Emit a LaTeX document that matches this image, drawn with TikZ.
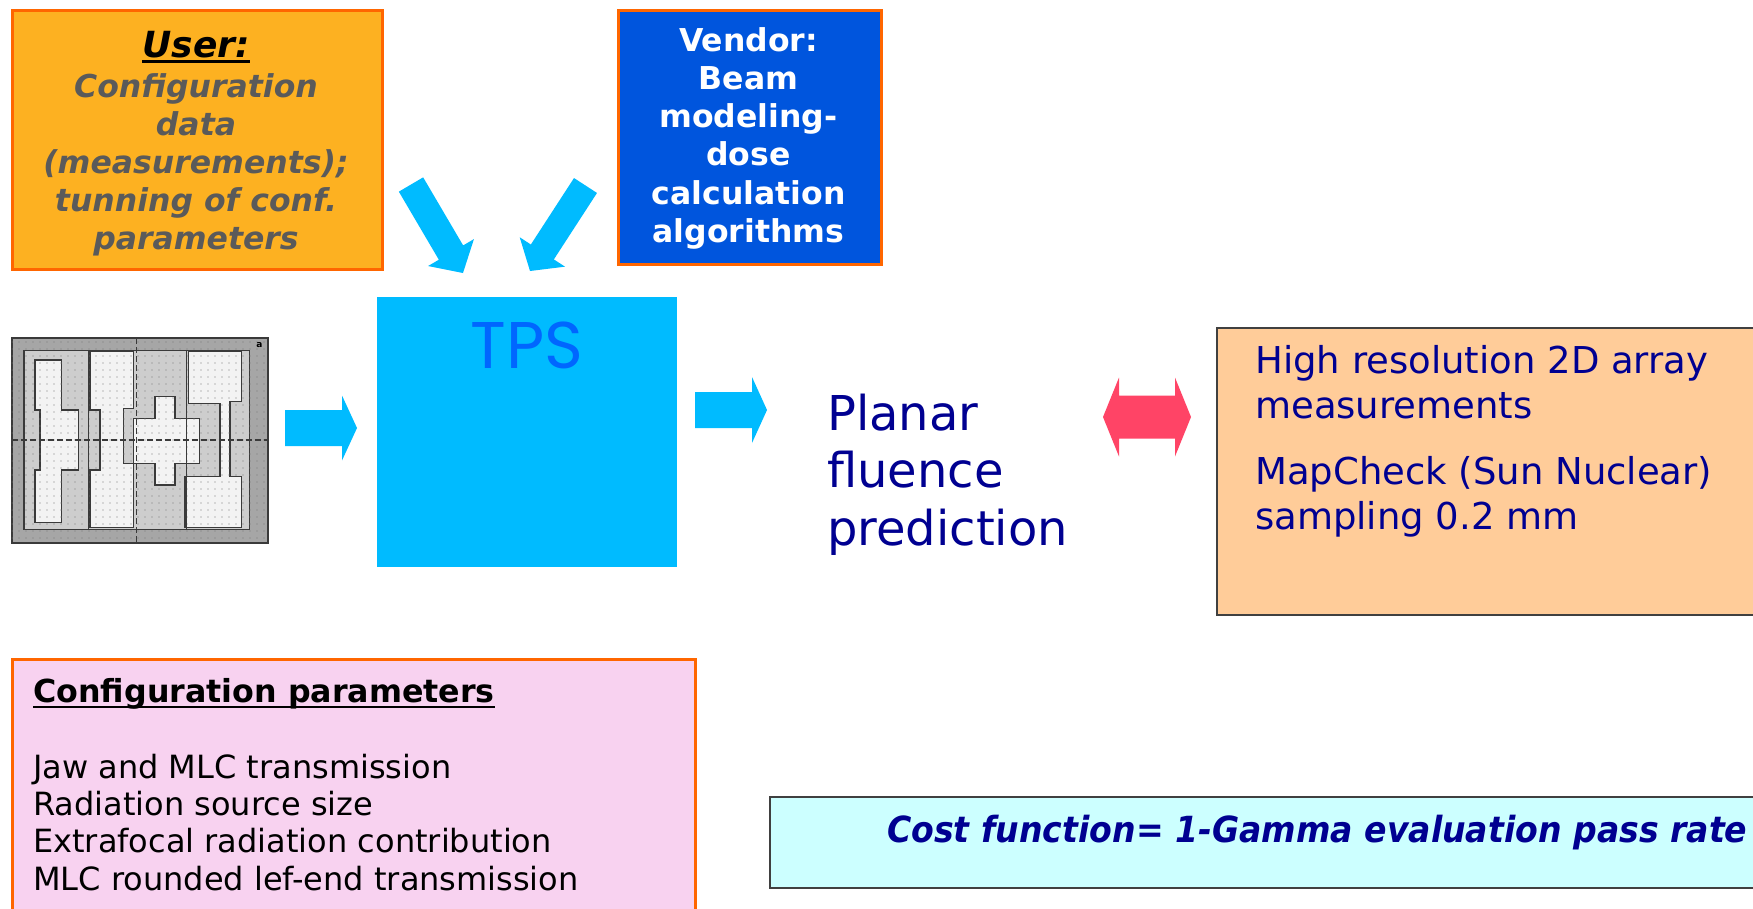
\documentclass[tikz,border=0pt]{standalone}
\usepackage{fontspec}
\setmainfont{DejaVu Sans}
\newfontfamily\tpsfont{Poppins}
\newfontfamily\narrowfont[FakeStretch=0.92]{DejaVu Sans}
\usetikzlibrary{calc,patterns.meta}

\definecolor{userfill}{RGB}{253,177,33}
\definecolor{orangeb}{RGB}{255,102,0}
\definecolor{vendorfill}{RGB}{0,85,221}
\definecolor{tpsfill}{RGB}{0,187,255}
\definecolor{tpstext}{RGB}{0,102,255}
\definecolor{arrowred}{RGB}{255,68,102}
\definecolor{navy}{RGB}{0,0,145}
\definecolor{usergray}{RGB}{90,90,90}
\definecolor{peach}{RGB}{255,204,153}
\definecolor{boxgray}{RGB}{64,64,64}
\definecolor{pinkfill}{RGB}{248,210,240}
\definecolor{cyanfill}{RGB}{204,255,255}
\definecolor{mlcband}{RGB}{166,166,166}
\definecolor{mlcleaf}{RGB}{205,205,205}
\definecolor{mlcopen}{RGB}{243,243,243}
\definecolor{mlcline}{RGB}{58,58,58}
\definecolor{mlcdot}{RGB}{120,120,120}

\newcommand\fs[2]{\fontsize{#1}{#2}\selectfont}

% block arrow: colour, tail, tip, half shaft width, half head width, head length
\newcommand\blockarrow[6]{%
  \coordinate (#2-#3-neck) at ($(#3)!#6!(#2)$);
  \fill[#1] ($(#2)!#4!90:(#3)$) -- ($(#2-#3-neck)!#4!90:(#3)$)
    -- ($(#2-#3-neck)!#5!90:(#3)$) -- (#3)
    -- ($(#2-#3-neck)!#5!-90:(#3)$) -- ($(#2-#3-neck)!#4!-90:(#3)$)
    -- ($(#2)!#4!-90:(#3)$) -- cycle;
}
% two-headed block arrow: colour, tip 1, tip 2, half shaft width, half head width, head length
\newcommand\blockarrowboth[6]{%
  \coordinate (#2-neck) at ($(#2)!#6!(#3)$);
  \coordinate (#3-neck) at ($(#3)!#6!(#2)$);
  \fill[#1] (#2) -- ($(#2-neck)!#5!90:(#3)$) -- ($(#2-neck)!#4!90:(#3)$)
    -- ($(#3-neck)!#4!-90:(#2)$) -- ($(#3-neck)!#5!-90:(#2)$) -- (#3)
    -- ($(#3-neck)!#5!90:(#2)$) -- ($(#3-neck)!#4!90:(#2)$)
    -- ($(#2-neck)!#4!-90:(#3)$) -- ($(#2-neck)!#5!-90:(#3)$) -- cycle;
}

\begin{document}
\begin{tikzpicture}[x=1pt,y=-1pt,
  panel/.style={rectangle, inner sep=0pt, anchor=north west},
  txt/.style={inner sep=0pt},
  multiline/.style={inner sep=0pt, align=#1},
  opening/.style={fill=mlcopen, draw=mlcline, line width=1.5pt}]
\useasboundingbox (0,0) rectangle (1753,908);
\clip (0,0) rectangle (1753,908);
\fill[white] (0,0) rectangle (1753,908);

% ---------- input boxes ----------
\node[panel, fill=userfill, draw=orangeb, line width=3pt,
      minimum width=370pt, minimum height=259pt] (user) at (11,9) {};
\node[txt, anchor=base, font=\bfseries\itshape\fs{36}{43}] (usertitle) at (196,57) {User:};
\draw[line width=2.5pt] ([yshift=-4.5pt]usertitle.base west) -- ([yshift=-4.5pt]usertitle.base east);
\node[multiline=center, anchor=north, text=usergray, font=\bfseries\itshape\fs{31.5}{38}]
  (userbody) at (196,70.4)
  {\strut Configuration\\data\\(measurements);\\tunning of conf.\\parameters};

\node[panel, fill=vendorfill, draw=orangeb, line width=3pt,
      minimum width=263pt, minimum height=254pt] (vendor) at (617,9) {};
\node[multiline=center, anchor=north, text=white, font=\bfseries\fs{31.5}{38.2}]
  (vendortext) at (748.5,24.3)
  {\strut Vendor:\\Beam\\modeling-\\dose\\calculation\\algorithms};

% ---------- TPS ----------
\node[panel, fill=tpsfill, minimum width=300pt, minimum height=270pt] (tps) at (377,297) {};
\node[txt, anchor=base, text=tpstext, font=\tpsfont\fs{66}{70}] (tpslabel) at (527,368) {TPS};

% ---------- MLC field image ----------
\begin{scope}[shift={(0,330)}, scale=0.33333]
  \filldraw[fill=mlcband, draw=mlcline, line width=2pt] (35,25) rectangle (805,640);
  \filldraw[fill=mlcleaf, draw=mlcline, line width=1.2pt] (72,62) rectangle (748,598);
  \filldraw[opening] (105,90) -- (185,90) -- (185,240) -- (235,240) -- (235,420) -- (185,420)
    -- (185,578) -- (105,578) -- (105,420) -- (120,420) -- (120,240) -- (105,240) -- cycle;
  \filldraw[opening] (270,65) -- (400,65) -- (400,235) -- (370,235) -- (370,400) -- (400,400)
    -- (400,592) -- (270,592) -- (270,420) -- (300,420) -- (300,240) -- (270,240) -- cycle;
  \filldraw[opening] (400,265) -- (465,265) -- (465,200) -- (525,200) -- (525,265) -- (598,265)
    -- (598,400) -- (525,400) -- (525,465) -- (465,465) -- (465,400) -- (400,400) -- cycle;
  \filldraw[opening] (565,65) -- (725,65) -- (725,215) -- (690,215) -- (690,440) -- (725,440)
    -- (725,592) -- (555,592) -- (555,440) -- (660,440) -- (660,220) -- (565,220) -- cycle;
  \fill[pattern={Dots[distance=6.5pt,radius=0.6pt]}, pattern color=mlcdot] (35,25) rectangle (805,640);
  \draw[mlcline, line width=1pt] (265,62) -- (265,598) (560,62) -- (560,598);
  \draw[mlcline, line width=1.4pt, dash pattern=on 6pt off 3pt] (35,330) -- (805,330) (410,25) -- (410,640);
  \node[txt, font=\bfseries\fs{9}{10}] (mlctag) at (778,45) {a};
\end{scope}

% ---------- output and comparison ----------
\node[multiline=left, anchor=north west, text=navy, font=\fs{48}{57.5}]
  (planar) at (827,389.75) {\strut Planar\\fluence\\prediction};

\node[panel, fill=peach, draw=boxgray, line width=2pt,
      minimum width=600pt, minimum height=287pt] (array) at (1216,327) {};
\node[multiline=left, anchor=north west, text=navy, font=\fs{37}{45}]
  (arraytext) at (1255,341.5)
  {\strut High resolution 2D array\\measurements\\[21pt]MapCheck (Sun Nuclear)\\sampling 0.2 mm};

% ---------- configuration parameters ----------
\node[panel, fill=pinkfill, draw=orangeb, line width=3pt,
      minimum width=683pt, minimum height=300pt] (config) at (11,658) {};
\node[txt, anchor=base west, font=\bfseries\fs{31.7}{38}] (configtitle) at (33,702) {Configuration parameters};
\draw[line width=2pt] ([yshift=-4.5pt]configtitle.base west) -- ([yshift=-4.5pt]configtitle.base east);
\node[multiline=left, anchor=north west, font=\fs{32}{37.3}] (configlist) at (33,751.9)
  {\strut Jaw and MLC transmission\\Radiation source size\\Extrafocal radiation contribution\\MLC rounded lef-end transmission};

% ---------- cost function ----------
\node[panel, fill=cyanfill, draw=boxgray, line width=2pt,
      minimum width=1100pt, minimum height=91pt] (cost) at (769,796) {};
\node[txt, anchor=base west, text=navy, font=\narrowfont\bfseries\itshape\fs{36}{42}] (costtext) at (887,842)
  {Cost function= 1-Gamma evaluation pass rate};

% ---------- block arrows ----------
\coordinate (inTail) at (285,428);      \coordinate (inTip) at (357,428);
\coordinate (outTail) at (695,410);     \coordinate (outTip) at (767,410);
\coordinate (userTail) at (411,184.5);  \coordinate (userTip) at (463,273);
\coordinate (vendorTail) at (585.5,185.5); \coordinate (vendorTip) at (530,271);
\coordinate (cmpLeft) at (1103,417);    \coordinate (cmpRight) at (1191,417);

\blockarrow{tpsfill}{userTail}{userTip}{14.1pt}{26.6pt}{23.7pt}
\blockarrow{tpsfill}{vendorTail}{vendorTip}{13.7pt}{27pt}{22.7pt}
\blockarrow{tpsfill}{inTail}{inTip}{18pt}{32.5pt}{15pt}
\blockarrow{tpsfill}{outTail}{outTip}{18pt}{33pt}{15pt}
\blockarrowboth{arrowred}{cmpLeft}{cmpRight}{21.5pt}{39.5pt}{16pt}
\end{tikzpicture}
\end{document}
